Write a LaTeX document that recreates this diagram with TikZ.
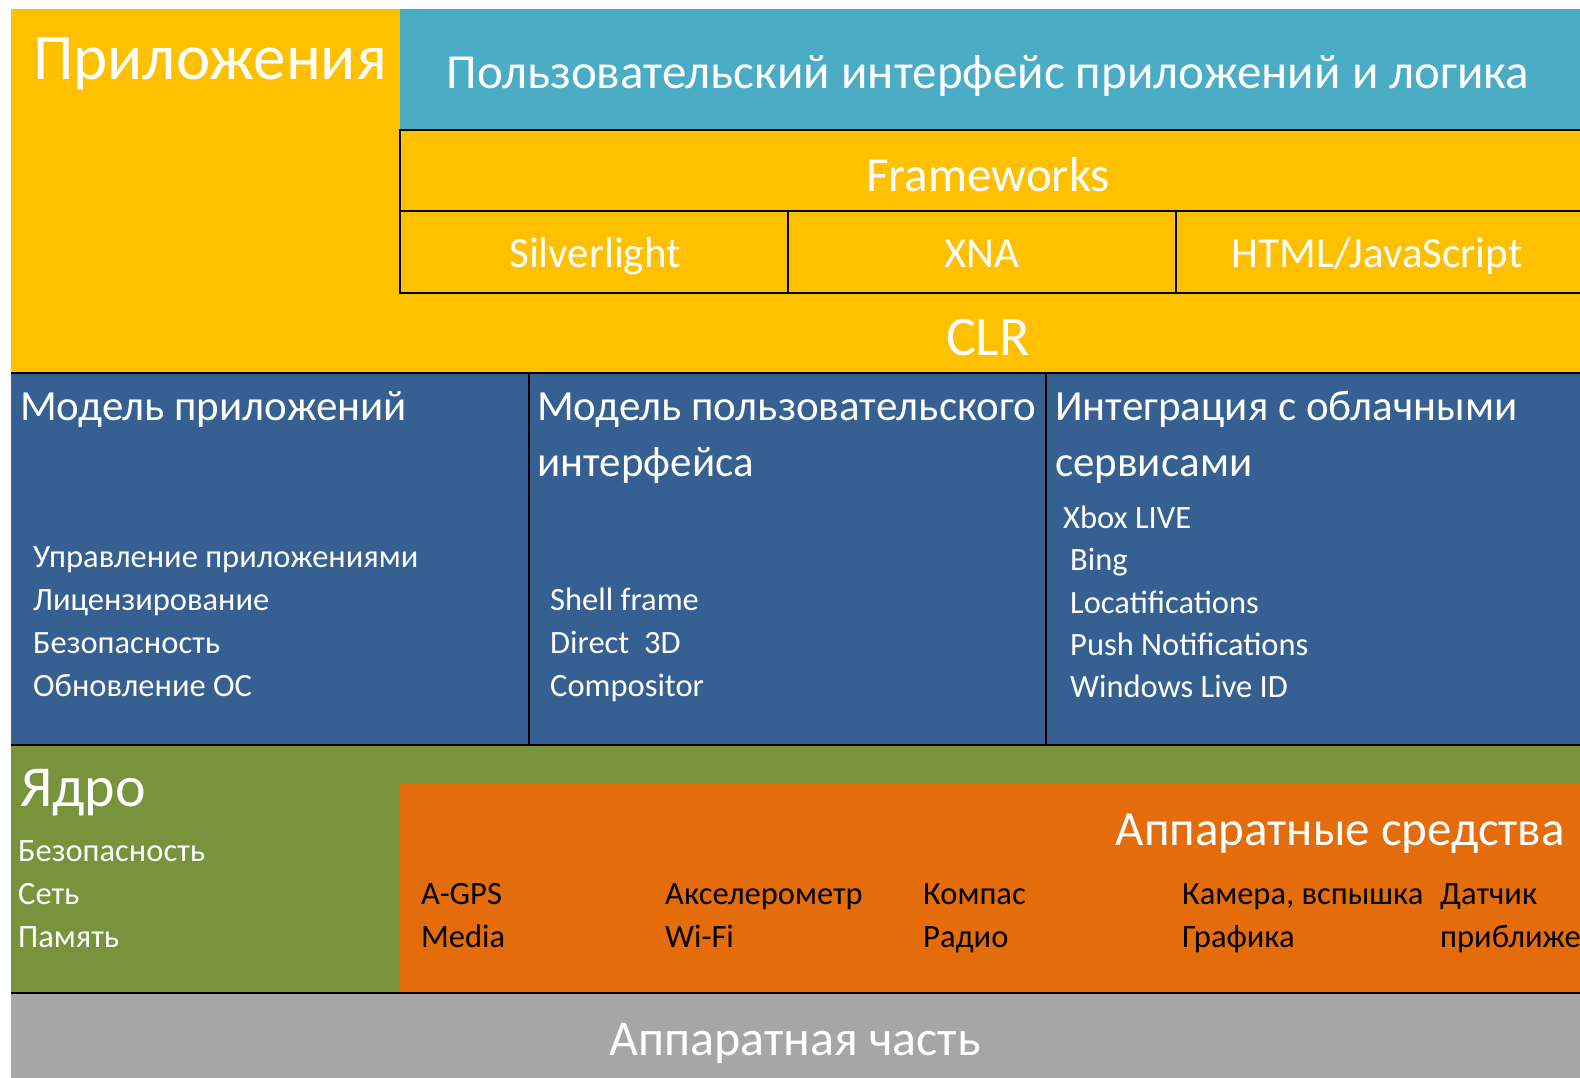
\documentclass[tikz,border=0pt]{standalone}
\usepackage{fontspec}
\setmainfont{Carlito}
\usetikzlibrary{positioning}

\definecolor{appyellow}{HTML}{FFC000}
\definecolor{uiteal}{HTML}{4BACC6}
\definecolor{modelblue}{HTML}{376092}
\definecolor{coregreen}{HTML}{77933C}
\definecolor{hworange}{HTML}{E46C0A}
\definecolor{hwgray}{HTML}{A6A6A6}

\newcommand{\fs}[1]{\fontsize{#1}{#1}\selectfont}

\begin{document}
\begin{tikzpicture}[x=1pt, y=-1pt,
	box/.style={draw=black, line width=1.5pt},
	wlbl/.style={text=white, inner sep=0pt, anchor=base west},
	blbl/.style={text=black, inner sep=0pt, anchor=base west},
	ctr/.style={text=white, inner sep=0pt, anchor=base},
	item/.style={font=\fs{32.5}}]
	\useasboundingbox (0,0) rectangle (1580,1078);
	\clip (0,0) rectangle (1580,1078);

	% Applications layer
	\fill[appyellow] (11,9) rectangle (1580,373);
	\fill[uiteal] (400,9) rectangle (1580,130);
	\draw[box] (400,130) rectangle (1582,211);
	\draw[box] (400,211) rectangle (1582,293);
	\draw[box] (788,211) -- (788,293);
	\draw[box] (1176,211) -- (1176,293);

	\node[wlbl, font=\fs{65}] (apps) at (33,80) {Приложения};
	\node[ctr, font=\fs{49}] (ui) at (988,89) {Пользовательский интерфейс приложений и логика};
	\node[ctr, font=\fs{49}] (fw) at (988,192) {Frameworks};
	\node[ctr, font=\fs{43}] (sl) at (595,268) {Silverlight};
	\node[ctr, font=\fs{43}] (xna) at (982,268) {XNA};
	\node[ctr, font=\fs{43}] (html) at (1377,268) {HTML/JavaScript};
	\node[ctr, font=\fs{56}] (clr) at (988,355) {CLR};

	% Models layer
	\fill[modelblue] (11,373) rectangle (1580,745);
	\draw[box] (11,373) -- (1582,373);
	\draw[box] (529,373) -- (529,745);
	\draw[box] (1046,373) -- (1046,745);

	\node[wlbl, font=\fs{43}] (appmodel) at (20,420) {Модель приложений};
	\node[wlbl, font=\fs{43}] (uimodel) at (537,420) {Модель пользовательского};
	\node[wlbl, font=\fs{43}, below=56pt of uimodel.base west, anchor=base west] (uimodel2) {интерфейса};
	\node[wlbl, font=\fs{43}] (cloud) at (1055,420) {Интеграция с облачными};
	\node[wlbl, font=\fs{43}, below=56pt of cloud.base west, anchor=base west] (cloud2) {сервисами};

	\node[wlbl, item] (mgmt) at (33,567) {Управление приложениями};
	\node[wlbl, item] (lic) at (33,610) {Лицензирование};
	\node[wlbl, item] (sec) at (33,653) {Безопасность};
	\node[wlbl, item] (upd) at (33,696) {Обновление ОС};

	\node[wlbl, item] (shell) at (550,610) {Shell frame};
	\node[wlbl, item] (d3d) at (550,653) {Direct\ \ 3D};
	\node[wlbl, item] (comp) at (550,696) {Compositor};

	\node[wlbl, item] (xbox) at (1063,528) {Xbox LIVE};
	\node[wlbl, item] (bing) at (1070,570) {Bing};
	\node[wlbl, item] (loc) at (1070,613) {Locatifications};
	\node[wlbl, item] (push) at (1070,655) {Push Notifications};
	\node[wlbl, item] (wlid) at (1070,697) {Windows Live ID};

	% Kernel layer
	\fill[coregreen] (11,745) rectangle (1580,993);
	\draw[box] (11,745) -- (1582,745);
	\fill[hworange] (400,784) rectangle (1580,993);

	\node[wlbl, font=\fs{58}] (kernel) at (20,806) {Ядро};
	\node[wlbl, item] (ksec) at (18,861) {Безопасность};
	\node[wlbl, item] (knet) at (18,904) {Сеть};
	\node[wlbl, item] (kmem) at (18,947) {Память};

	\node[text=white, inner sep=0pt, anchor=base east, font=\fs{49}] (hwtitle) at (1565,845) {Аппаратные средства};
	\node[blbl, item] (gps) at (421,904) {A-GPS};
	\node[blbl, item] (media) at (421,947) {Media};
	\node[blbl, item] (accel) at (665,904) {Акселерометр};
	\node[blbl, item] (wifi) at (665,947) {Wi-Fi};
	\node[blbl, item] (compass) at (923,904) {Компас};
	\node[blbl, item] (radio) at (923,947) {Радио};
	\node[blbl, item] (camera) at (1182,904) {Камера, вспышка};
	\node[blbl, item] (gfx) at (1182,947) {Графика};
	\node[blbl, item] (prox) at (1440,904) {Датчик};
	\node[blbl, item] (prox2) at (1440,947) {приближения};

	% Hardware layer
	\fill[hwgray] (11,993) rectangle (1580,1078);
	\draw[box] (11,993) -- (1582,993);
	\node[ctr, font=\fs{50}] (hw) at (795,1055) {Аппаратная часть};
\end{tikzpicture}
\end{document}
